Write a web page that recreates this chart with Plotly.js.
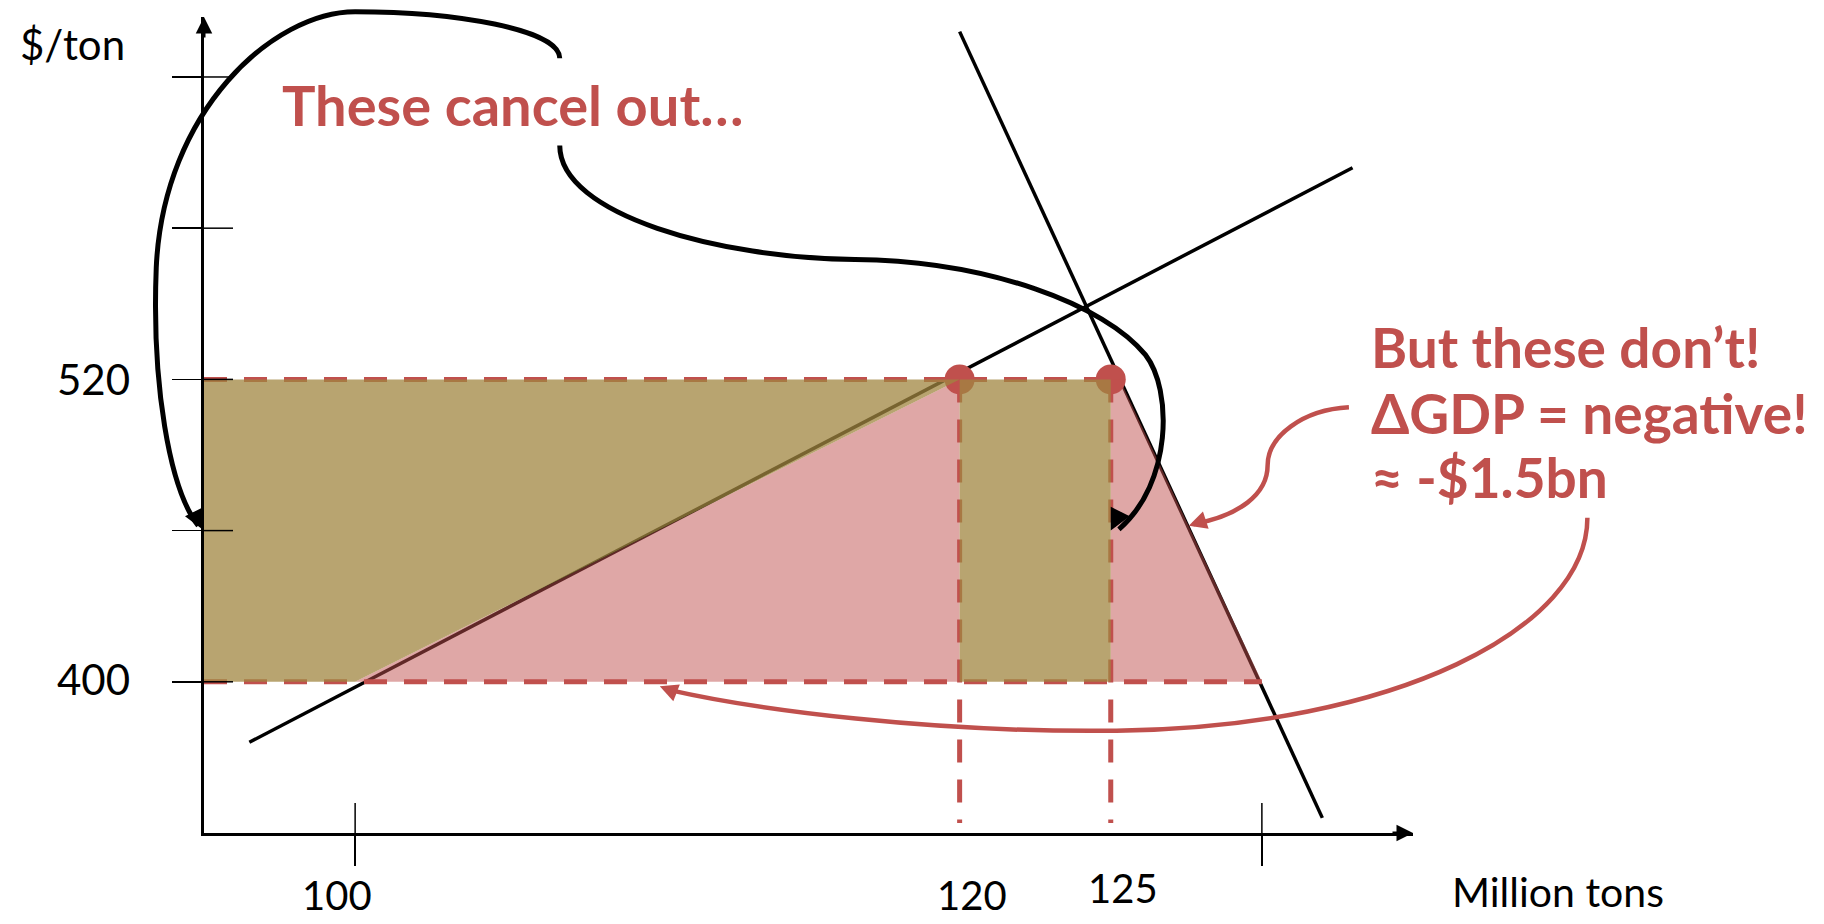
<!DOCTYPE html>
<html><head><meta charset="utf-8">
<script src="https://cdn.plot.ly/plotly-3.0.1.min.js"></script>
<style>html,body{margin:0;padding:0;background:#fff;} #chart{width:1824px;height:924px;}</style>
</head><body><div id="chart"></div>
<script>
// ---------- data ----------
const xRange = [95, 135];
const yRange = [340, 663.8];
const xTickVals = [100, 130];
const yTickVals = [400, 460, 520, 580, 640];

const xLabelText = ['100', '120', '125'];
const xLabelQ = [99.4, 120.4, 125.4];
const xLabelP = [315.2, 315.2, 318.0];
const yLabelText = ['520', '400'];
const yLabelQ = [91.35, 91.35];
const yLabelP = [520, 401];
const yTitle = '$/ton';
const yTitlePos = [90.65, 653.1];
const xTitle = 'Million tons';
const xTitlePos = [139.81, 316.6];

const supplyQ = [96.5, 133.0];
const supplyP = [376, 604];
const demandQ = [120.0, 132.0];
const demandP = [658, 346];

const worldPrice = 400;
const tariffPrice = 520;
const qSupplyWorld = 100;
const qSupplyTariff = 120;
const qDemandTariff = 125;
const qDemandTariffEdge = 125.3;
const qDemandWorld = 130;
const dashBottomP = 344;

const dotQ = [120, 125];
const dotP = [520, 520];

// annotation curves (control points in chart units)
const cancelCurveQ = [106.77, 106.77, 103.27, 100.0, 97.31, 93.65, 93.42, 93.27, 93.85, 94.81];
const cancelCurveP = [647.4, 659.0, 665.9, 665.9, 665.9, 626.7, 564.3, 518.2, 476.6, 461.9];
const cancelTip = [95.0, 460.0];
const cancelCurve2Q = [106.77, 106.77, 112.12, 116.54, 120.96, 124.81, 126.15, 127.04, 127.04, 125.27];
const cancelCurve2P = [612.8, 585.1, 568.0, 567.6, 567.1, 549.6, 529.7, 515.9, 478.9, 460.5];
const cancelTip2 = [125.0, 460.0];
const redCurve1Q = [132.88, 131.35, 130.19, 130.19, 130.19, 129.23, 127.81];
const redCurve1P = [508.95, 508.0, 497.4, 485.9, 474.3, 466.0, 462.8];
const redTip1 = [127.58, 461.9];
const redCurve2Q = [140.77, 140.77, 134.42, 125.19, 119.04, 113.27, 110.38];
const redCurve2P = [465.1, 421.2, 382.0, 380.6, 379.7, 388.9, 396.8];
const redTip2 = [110.08, 398.2];

const cancelText = 'These cancel out…';
const cancelTextPos = [97.5, 629.0];
const noteLines = ['But these don’t!', 'ΔGDP = negative!', '≈ -$1.5bn'];
const noteQ = 133.56;
const noteP = [533.0, 506.7, 481.2];

// ---------- styles ----------
const RED = '#C0504D';
const PINK = 'rgba(192,80,77,0.5)';
const GOLD = 'rgba(160,134,64,0.75)';
const FONT = 'Lato, "Open Sans", "DejaVu Sans", sans-serif';

function px(q) { return (q - xRange[0]) / (xRange[1] - xRange[0]); }
function py(p) { return (p - yRange[0]) / (yRange[1] - yRange[0]); }
function bezierPath(Q, P) {
  let s = 'M ' + px(Q[0]) + ' ' + py(P[0]);
  for (let i = 1; i + 2 < Q.length; i += 3) {
    s += ' C ' + px(Q[i]) + ' ' + py(P[i]) + ' ' + px(Q[i+1]) + ' ' + py(P[i+1]) + ' ' + px(Q[i+2]) + ' ' + py(P[i+2]);
  }
  return s;
}

const dash = '23px,17px';
const traces = [
  {x: supplyQ, y: supplyP, mode: 'lines', line: {color: '#000', width: 3.5}, hoverinfo: 'skip'},
  {x: demandQ, y: demandP, mode: 'lines', line: {color: '#000', width: 3.5}, hoverinfo: 'skip'},
  {x: [xRange[0], qDemandTariff], y: [tariffPrice, tariffPrice], mode: 'lines', line: {color: RED, width: 5, dash: dash}, hoverinfo: 'skip'},
  {x: [xRange[0], qDemandWorld], y: [worldPrice, worldPrice], mode: 'lines', line: {color: RED, width: 5, dash: dash}, hoverinfo: 'skip'},
  {x: [qSupplyTariff, qSupplyTariff], y: [tariffPrice, dashBottomP], mode: 'lines', line: {color: RED, width: 5, dash: dash}, hoverinfo: 'skip'},
  {x: [qDemandTariff, qDemandTariff], y: [tariffPrice, dashBottomP], mode: 'lines', line: {color: RED, width: 5, dash: dash}, hoverinfo: 'skip'},
  {x: dotQ, y: dotP, mode: 'markers', marker: {color: RED, size: 30}, hoverinfo: 'skip', cliponaxis: false},
  // pink deadweight areas
  {x: [qSupplyWorld, qSupplyTariff, qSupplyTariff], y: [worldPrice, tariffPrice, worldPrice], mode: 'lines', fill: 'toself', fillcolor: PINK, line: {width: 0}, hoverinfo: 'skip'},
  {x: [qDemandTariff, qDemandTariff, qDemandTariffEdge, qDemandWorld], y: [worldPrice, tariffPrice, tariffPrice, worldPrice], mode: 'lines', fill: 'toself', fillcolor: PINK, line: {width: 0}, hoverinfo: 'skip'},
  // gold transfer areas
  {x: [xRange[0], qSupplyWorld, qSupplyTariff, xRange[0]], y: [worldPrice, worldPrice, tariffPrice, tariffPrice], mode: 'lines', fill: 'toself', fillcolor: GOLD, line: {width: 0}, hoverinfo: 'skip'},
  {x: [qSupplyTariff, qDemandTariff, qDemandTariff, qSupplyTariff], y: [worldPrice, worldPrice, tariffPrice, tariffPrice], mode: 'lines', fill: 'toself', fillcolor: GOLD, line: {width: 0}, hoverinfo: 'skip'}
];

const shapes = [];
xTickVals.forEach(v => shapes.push({type: 'line', xref: 'x', x0: v, x1: v, yref: 'paper', ysizemode: 'pixel', yanchor: 0, y0: 0, y1: 30, line: {color: '#000', width: 1.5}}));
yTickVals.forEach(v => shapes.push({type: 'line', yref: 'y', y0: v, y1: v, xref: 'paper', xsizemode: 'pixel', xanchor: 0, x0: 0, x1: 29, line: {color: '#000', width: 1.5}}));
shapes.push({type: 'path', xref: 'paper', yref: 'paper', path: bezierPath(cancelCurveQ, cancelCurveP), line: {color: '#000', width: 5}, layer: 'above'});
shapes.push({type: 'path', xref: 'paper', yref: 'paper', path: bezierPath(cancelCurve2Q, cancelCurve2P), line: {color: '#000', width: 5}, layer: 'above'});
shapes.push({type: 'path', xref: 'paper', yref: 'paper', path: bezierPath(redCurve1Q, redCurve1P), line: {color: RED, width: 4.5}, layer: 'above'});
shapes.push({type: 'path', xref: 'paper', yref: 'paper', path: bezierPath(redCurve2Q, redCurve2P), line: {color: RED, width: 4.5}, layer: 'above'});

const annotations = [];
function txt(t, q, p, size, color, bold, xanchor) {
  annotations.push({text: bold ? '<b>' + t + '</b>' : t, x: px(q), y: py(p), xref: 'paper', yref: 'paper', showarrow: false,
    xanchor: xanchor || 'center', yanchor: 'middle', font: {family: FONT, size: size, color: color}});
}
txt(yTitle, yTitlePos[0], yTitlePos[1], 42, '#000', false);
yLabelText.forEach((t, i) => txt(t, yLabelQ[i], yLabelP[i], 42, '#000', false));
xLabelText.forEach((t, i) => txt(t, xLabelQ[i], xLabelP[i], 40, '#000', false));
txt(xTitle, xTitlePos[0], xTitlePos[1], 41, '#000', false);
txt(cancelText, cancelTextPos[0], cancelTextPos[1], 56, RED, true, 'left');
noteLines.forEach((t, i) => txt(t, noteQ, noteP[i], 55, RED, true, 'left'));

function head(x, y, ax, ay, color, w, size, xref, yref) {
  annotations.push({text: '', x: x, y: y, xref: xref || 'x', yref: yref || 'y', ax: ax, ay: ay, showarrow: true,
    arrowhead: 2, arrowsize: size, arrowwidth: w, arrowcolor: color, standoff: 0});
}
// axis arrows
head(1, 0, -22, 0, '#000', 3, 1.1, 'paper', 'paper');
head(0, 1, 0, 22, '#000', 3, 1.1, 'paper', 'paper');
// curve arrows
head(px(cancelTip[0]), py(cancelTip[1]), -10, -20, '#000', 5, 0.85, 'paper', 'paper');
head(px(cancelTip2[0]), py(cancelTip2[1]), 10, -20, '#000', 5, 0.85, 'paper', 'paper');
head(px(redTip1[0]), py(redTip1[1]), 18, -6, RED, 4.5, 0.8, 'paper', 'paper');
head(px(redTip2[0]), py(redTip2[1]), 18, 7, RED, 4.5, 0.8, 'paper', 'paper');

const layout = {
  width: 1824, height: 924,
  margin: {l: 204, r: 411, t: 17, b: 91, pad: 0},
  paper_bgcolor: '#fff', plot_bgcolor: 'rgba(0,0,0,0)',
  showlegend: false,
  xaxis: {range: xRange, showline: true, linewidth: 3, linecolor: '#000', ticks: 'outside', tickvals: xTickVals,
    ticklen: 30, tickwidth: 1.5, tickcolor: '#000', showticklabels: false, showgrid: false, zeroline: false, fixedrange: true},
  yaxis: {range: yRange, showline: true, linewidth: 3, linecolor: '#000', ticks: 'outside', tickvals: yTickVals,
    ticklen: 29, tickwidth: 1.5, tickcolor: '#000', showticklabels: false, showgrid: false, zeroline: false, fixedrange: true},
  shapes: shapes,
  annotations: annotations
};
Plotly.newPlot('chart', traces, layout, {displayModeBar: false, staticPlot: true});
</script>
</body></html>
